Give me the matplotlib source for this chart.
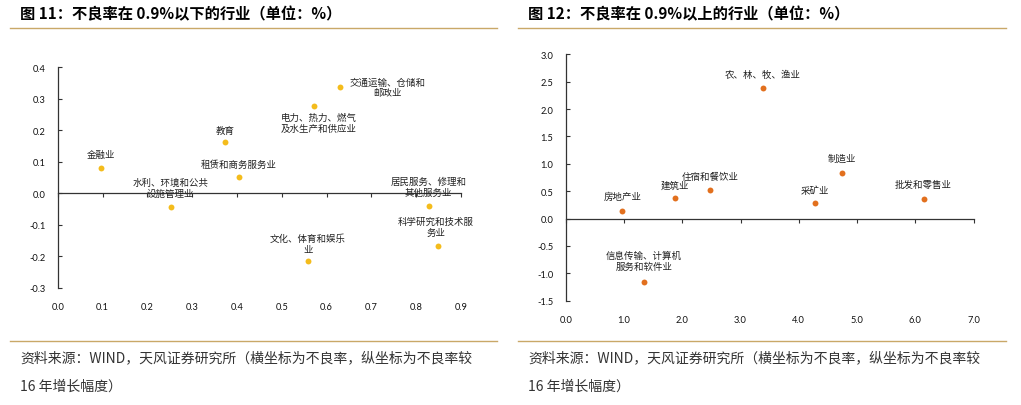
import matplotlib.pyplot as plt
from matplotlib.lines import Line2D

plt.rcParams['font.family'] = ['Noto Sans CJK SC', 'DejaVu Sans']

# 图 11 data: x = 不良率, y = 较16年增长幅度
left_names = ['金融业', '教育', '租赁和商务服务业', '水利、环境和公共\n设施管理业',
              '交通运输、仓储和\n邮政业', '电力、热力、燃气\n及水生产和供应业',
              '居民服务、修理和\n其他服务业', '科学研究和技术服\n务业', '文化、体育和娱乐\n业']
left_x = [0.096, 0.374, 0.404, 0.252, 0.631, 0.571, 0.828, 0.848, 0.558]
left_y = [0.081, 0.161, 0.053, -0.043, 0.336, 0.277, -0.040, -0.167, -0.216]
# label offsets in pixels
left_off = [(0, 13), (0, 12), (0, 12), (0, 19), (47, 0), (5, -17), (0, 19), (-2, 19), (0, 18)]

# 图 12 data
right_names = ['农、林、牧、渔业', '房地产业', '建筑业', '住宿和餐饮业',
               '信息传输、计算机\n服务和软件业', '制造业', '采矿业', '批发和零售业']
right_x = [3.38, 0.97, 1.87, 2.48, 1.34, 4.74, 4.28, 6.14]
right_y = [2.38, 0.146, 0.37, 0.52, -1.15, 0.84, 0.28, 0.36]
right_off = [(0, 14), (0, 14), (0, 13), (0, 14), (0, 21), (0, 14), (0, 13), (0, 14)]

left_xticks = [0.0, 0.1, 0.2, 0.3, 0.4, 0.5, 0.6, 0.7, 0.8, 0.9]
left_yticks = [-0.3, -0.2, -0.1, 0.0, 0.1, 0.2, 0.3, 0.4]
right_xticks = [0.0, 1.0, 2.0, 3.0, 4.0, 5.0, 6.0, 7.0]
right_yticks = [-1.5, -1.0, -0.5, 0.0, 0.5, 1.0, 1.5, 2.0, 2.5, 3.0]

fig = plt.figure(figsize=(10.21, 4.06), dpi=100)
W, H = 1021, 406


def draw(rect, xs, ys, names, offs, color, xticks, yticks):
    ax = fig.add_axes(rect)
    ax.scatter(xs, ys, s=18, color=color, zorder=3, linewidths=0)
    for x, y, n, o in zip(xs, ys, names, offs):
        ax.annotate(n, (x, y), xytext=o, textcoords='offset pixels',
                    ha='center', va='center', fontsize=6.8, color='#222222',
                    linespacing=1.25)
    ax.set_xlim(xticks[0], xticks[-1])
    ax.set_ylim(yticks[0], yticks[-1])
    for s in ['top', 'right']:
        ax.spines[s].set_visible(False)
    ax.spines['bottom'].set_position(('data', 0))
    for s in ['left', 'bottom']:
        ax.spines[s].set_color('#333333')
        ax.spines[s].set_linewidth(0.9)
    ax.set_yticks(yticks)
    ax.set_yticklabels(['%.1f' % v for v in yticks])
    ax.tick_params(axis='y', direction='in', length=3, width=0.8, color='#333333',
                   labelsize=6.7, pad=9, labelcolor='#111111')
    ax.set_xticks(xticks)
    ax.tick_params(axis='x', direction='out', length=3, width=0.8, color='#333333',
                   labelbottom=False)
    sec = ax.secondary_xaxis('bottom')
    sec.set_xticks(xticks)
    sec.set_xticklabels(['%.1f' % v for v in xticks])
    sec.spines['bottom'].set_visible(False)
    sec.tick_params(length=0, labelsize=6.7, pad=10, labelcolor='#111111')
    for lab in ax.get_yticklabels() + sec.get_xticklabels():
        lab.set_fontfamily(['Lato', 'DejaVu Sans'])
    return ax


draw([57.7 / W, (406 - 289) / H, (461 - 57.7) / W, (289 - 68) / H],
     left_x, left_y, left_names, left_off, '#F4BC1C', left_xticks, left_yticks)
draw([565.7 / W, (406 - 301.7) / H, (973.7 - 565.7) / W, (301.7 - 55.3) / H],
     right_x, right_y, right_names, right_off, '#E2701E', right_xticks, right_yticks)

# titles, rules and source notes
titles = ['图 11：不良率在 0.9%以下的行业（单位：%）', '图 12：不良率在 0.9%以上的行业（单位：%）']
source = ['资料来源：WIND，天风证券研究所（横坐标为不良率，纵坐标为不良率较',
          '16 年增长幅度）']
for x0, x1, t in [(10, 497, titles[0]), (518, 1006, titles[1])]:
    fig.text((x0 + 10) / W, 1 - 14 / H, t, fontsize=11, fontweight='bold',
             ha='left', va='center', color='black')
    for yy in [29, 342]:
        fig.add_artist(Line2D([x0 / W, x1 / W], [1 - yy / H, 1 - yy / H],
                              color='#C9A868', linewidth=1))
    fig.text((x0 + 10) / W, 1 - 358 / H, source[0], fontsize=10,
             ha='left', va='center', color='#333333')
    fig.text((x0 + 10) / W, 1 - 387 / H, source[1], fontsize=10,
             ha='left', va='center', color='#333333')

fig.savefig('out.png', dpi=100)
